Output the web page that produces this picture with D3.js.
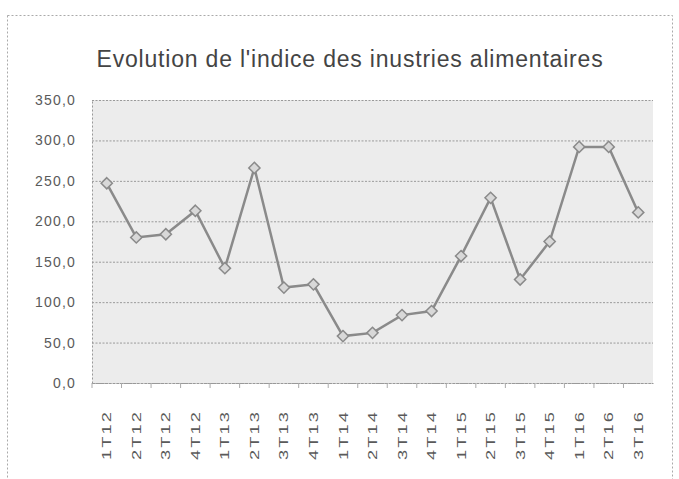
<!DOCTYPE html>
<html lang="fr">
<head>
  <meta charset="UTF-8">
  <title>Evolution de l'indice des inustries alimentaires</title>
  <style>
      body { margin: 0; background: #fff; }
      .grid line { stroke: #9a9a9a; stroke-dasharray: 2,1.5; }
      .grid path { stroke-width: 0; }
      .axis text { font: 14px "Liberation Sans", Arial, sans-serif; fill: #5a5a5a; }
      .axis path, .axis line { stroke: #999; }
  </style>
</head>
<body>
<div id="chart"></div>
<script src="https://d3js.org/d3.v7.min.js"></script>
<script>
  const categories = ['1T12', '2T12', '3T12', '4T12', '1T13', '2T13', '3T13', '4T13',
    '1T14', '2T14', '3T14', '4T14', '1T15', '2T15', '3T15', '4T15', '1T16', '2T16', '3T16'];
  const values = [247, 180, 184, 213, 142, 266, 118, 122, 58, 62, 84, 89, 157, 229, 128, 175, 292, 292, 211];
  const yTicks = [0, 50, 100, 150, 200, 250, 300, 350];

  const W = 679, H = 479;
  const margin = {top: 100, right: 26, bottom: 96, left: 92};
  const width = W - margin.left - margin.right,
    height = H - margin.top - margin.bottom;

  const root = d3.select("#chart").append("svg")
    .attr("width", W)
    .attr("height", H);

  // chart border (dotted)
  root.append("rect")
    .attr("x", 7.5).attr("y", 15.5)
    .attr("width", 665).attr("height", 470)
    .attr("fill", "none")
    .attr("stroke", "#aaa")
    .attr("stroke-dasharray", "2,2");

  root.append("text")
    .attr("x", 350)
    .attr("y", 67)
    .attr("text-anchor", "middle")
    .style("font", "23px 'Liberation Sans', Arial, sans-serif")
    .style("letter-spacing", "0.8px")
    .style("fill", "#444")
    .text("Evolution de l'indice des inustries alimentaires");

  const svg = root.append("g")
    .attr("transform", `translate(${margin.left},${margin.top})`);

  const x = d3.scaleBand()
    .domain(categories)
    .range([0, width]);

  const y = d3.scaleLinear()
    .domain([0, 350])
    .range([height, 0]);

  svg.append("rect")
    .attr("width", width)
    .attr("height", height)
    .attr("fill", "#ececec");

  svg.append("g")
    .attr("class", "grid")
    .call(d3.axisLeft(y)
      .tickValues(yTicks)
      .tickSize(-width)
      .tickFormat(""));

  svg.append("g")
    .attr("class", "axis")
    .call(d3.axisLeft(y)
      .tickValues(yTicks)
      .tickSize(0)
      .tickPadding(16)
      .tickFormat(d => d3.format(".1f")(d).replace(".", ",")))
    .call(g => g.selectAll("text").style("letter-spacing", "1.2px"))
    .call(g => g.select(".domain").attr("stroke", "#aaa").attr("stroke-dasharray", "2,2"));

  const xAxis = svg.append("g")
    .attr("class", "axis")
    .attr("transform", `translate(0,${height})`)
    .call(d3.axisBottom(x).tickSize(0).tickPadding(0));

  xAxis.select(".domain").attr("stroke", "#aaa").attr("stroke-dasharray", "3,1");

  // labels are stretched along their direction, like the original
  xAxis.selectAll("text")
    .attr("transform", "rotate(-90) scale(1.4,1)")
    .attr("text-anchor", "start")
    .attr("x", -55)
    .attr("y", 0)
    .attr("dy", "0.35em")
    .style("font-size", "13px")
    .style("letter-spacing", "1.5px");

  // small ticks at category boundaries
  svg.append("g")
    .selectAll("line")
    .data(categories)
    .join("line")
    .attr("x1", d => x(d))
    .attr("x2", d => x(d))
    .attr("y1", height)
    .attr("y2", height + 5)
    .attr("stroke", "#aaa");

  const line = d3.line()
    .x((d, i) => x(categories[i]) + x.bandwidth() / 2)
    .y(d => y(d));

  svg.append("path")
    .datum(values)
    .attr("fill", "none")
    .attr("stroke", "#8a8a8a")
    .attr("stroke-width", 2.5)
    .attr("d", line);

  svg.selectAll(".pt")
    .data(values)
    .join("path")
    .attr("class", "pt")
    .attr("d", d3.symbol(d3.symbolDiamond2, 80))
    .attr("transform", (d, i) => `translate(${x(categories[i]) + x.bandwidth() / 2},${y(d)})`)
    .attr("fill", "#d8d8d8")
    .attr("stroke", "#8a8a8a")
    .attr("stroke-width", 1.5);
</script>
</body>
</html>
